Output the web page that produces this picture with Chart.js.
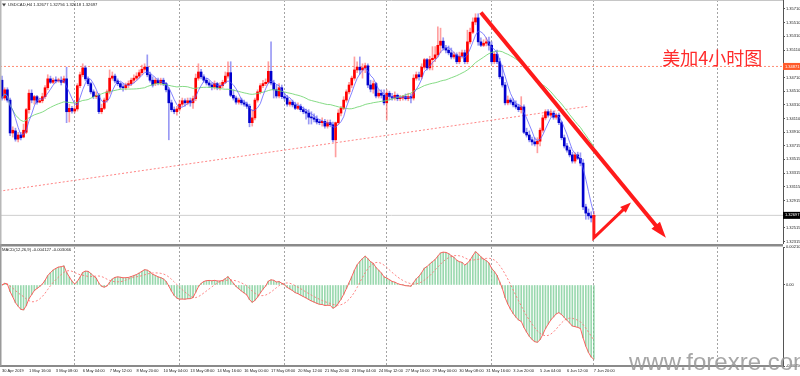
<!DOCTYPE html>
<html lang="zh">
<head>
<meta charset="utf-8">
<title>USDCAD H4</title>
<script src="https://cdn.jsdelivr.net/npm/chart.js@4.4.1/dist/chart.umd.min.js"></script>
<style>
  html, body { margin: 0; padding: 0; background: #ffffff; }
  #wrap { position: relative; width: 800px; height: 376px; overflow: hidden; background: #ffffff; }
  #boxPrice { position: absolute; left: 0; top: 0; width: 800px; height: 244px; }
  #boxMacd { position: absolute; left: 0; top: 244px; width: 800px; height: 132px; }
</style>
</head>
<body>
<div id="wrap">
  <div id="boxPrice"><canvas id="chartPrice"></canvas></div>
  <div id="boxMacd"><canvas id="chartMacd"></canvas></div>
</div>
<script>
// ---- data ----
var symbolName = 'USDCAD,H4';
var chartNote = '美加4小时图';
var watermark = 'www.forexre.com';

// one time label every 10 bars
var timeLabels = ['30 Apr 2019', '1 May 16:00', '3 May 08:00', '6 May 04:00', '7 May 12:00', '8 May 20:00',
    '10 May 04:00', '13 May 08:00', '14 May 16:00', '16 May 00:00', '17 May 08:00', '20 May 12:00',
    '21 May 20:00', '23 May 04:00', '24 May 12:00', '27 May 16:00', '29 May 00:00', '30 May 08:00',
    '31 May 16:00', '3 Jun 20:00', '5 Jun 04:00', '6 Jun 12:00', '7 Jun 20:00'];

var openPrice = [
    1.3467, 1.3441, 1.3453, 1.3438, 1.3390, 1.3393, 1.3381, 1.3387, 1.3384, 1.3391,
    1.3424, 1.3448, 1.3438, 1.3443, 1.3435, 1.3437, 1.3443, 1.3456, 1.3469, 1.3464,
    1.3467, 1.3466, 1.3467, 1.3464, 1.3469, 1.3421, 1.3426, 1.3422, 1.3425, 1.3459,
    1.3475, 1.3485, 1.3469, 1.3462, 1.3450, 1.3443, 1.3445, 1.3421, 1.3426, 1.3438,
    1.3450, 1.3470, 1.3473, 1.3466, 1.3462, 1.3457, 1.3456, 1.3460, 1.3462, 1.3467,
    1.3470, 1.3473, 1.3478, 1.3483, 1.3486, 1.3475, 1.3467, 1.3462, 1.3467, 1.3463,
    1.3467, 1.3462, 1.3453, 1.3434, 1.3424, 1.3421, 1.3425, 1.3432, 1.3437, 1.3434,
    1.3437, 1.3434, 1.3440, 1.3470, 1.3479, 1.3472, 1.3467, 1.3463, 1.3460, 1.3457,
    1.3462, 1.3456, 1.3459, 1.3464, 1.3473, 1.3478, 1.3445, 1.3441, 1.3435, 1.3438,
    1.3434, 1.3432, 1.3429, 1.3405, 1.3412, 1.3438, 1.3450, 1.3459, 1.3462, 1.3464,
    1.3480, 1.3463, 1.3453, 1.3444, 1.3456, 1.3443, 1.3441, 1.3432, 1.3435, 1.3431,
    1.3426, 1.3429, 1.3424, 1.3421, 1.3419, 1.3413, 1.3412, 1.3410, 1.3406, 1.3405,
    1.3407, 1.3400, 1.3405, 1.3402, 1.3380, 1.3405, 1.3419, 1.3426, 1.3438, 1.3450,
    1.3460, 1.3470, 1.3482, 1.3486, 1.3482, 1.3485, 1.3488, 1.3460, 1.3454, 1.3462,
    1.3444, 1.3448, 1.3445, 1.3434, 1.3448, 1.3443, 1.3441, 1.3445, 1.3440, 1.3441,
    1.3443, 1.3440, 1.3443, 1.3441, 1.3470, 1.3475, 1.3472, 1.3486, 1.3497, 1.3485,
    1.3497, 1.3499, 1.3504, 1.3518, 1.3524, 1.3514, 1.3511, 1.3507, 1.3501, 1.3504,
    1.3494, 1.3502, 1.3507, 1.3494, 1.3523, 1.3537, 1.3552, 1.3558, 1.3523, 1.3518,
    1.3521, 1.3523, 1.3518, 1.3494, 1.3505, 1.3494, 1.3472, 1.3460, 1.3434, 1.3438,
    1.3435, 1.3431, 1.3428, 1.3424, 1.3428, 1.3391, 1.3387, 1.3380, 1.3377, 1.3374,
    1.3378, 1.3394, 1.3412, 1.3421, 1.3416, 1.3419, 1.3413, 1.3416, 1.3405, 1.3383,
    1.3371, 1.3365, 1.3358, 1.3349, 1.3358, 1.3353, 1.3346, 1.3282, 1.3273, 1.3269,
    1.32677];
var highPrice = [
    1.3473, 1.3456, 1.3456, 1.3441, 1.3399, 1.3397, 1.3391, 1.3391, 1.3403, 1.3426,
    1.3453, 1.3453, 1.3445, 1.3445, 1.3441, 1.3448, 1.3459, 1.3475, 1.3473, 1.3470,
    1.3472, 1.3470, 1.3472, 1.3473, 1.3486, 1.3432, 1.3429, 1.3429, 1.3462, 1.3479,
    1.3491, 1.3488, 1.3472, 1.3464, 1.3453, 1.3450, 1.3448, 1.3432, 1.3441, 1.3453,
    1.3482, 1.3479, 1.3476, 1.3469, 1.3464, 1.3462, 1.3463, 1.3466, 1.3470, 1.3475,
    1.3478, 1.3482, 1.3489, 1.3491, 1.3504, 1.3479, 1.3472, 1.3470, 1.3470, 1.3470,
    1.3470, 1.3464, 1.3456, 1.3438, 1.3428, 1.3429, 1.3438, 1.3441, 1.3440, 1.3441,
    1.3441, 1.3444, 1.3476, 1.3491, 1.3483, 1.3475, 1.3470, 1.3466, 1.3463, 1.3466,
    1.3464, 1.3463, 1.3467, 1.3479, 1.3494, 1.3494, 1.3453, 1.3444, 1.3441, 1.3441,
    1.3438, 1.3435, 1.3432, 1.3424, 1.3441, 1.3453, 1.3462, 1.3467, 1.3469, 1.3494,
    1.3523, 1.3467, 1.3460, 1.3462, 1.3460, 1.3448, 1.3445, 1.3438, 1.3438, 1.3435,
    1.3434, 1.3432, 1.3428, 1.3425, 1.3424, 1.3421, 1.3418, 1.3415, 1.3410, 1.3412,
    1.3410, 1.3409, 1.3409, 1.3406, 1.3406, 1.3424, 1.3429, 1.3443, 1.3453, 1.3464,
    1.3473, 1.3501, 1.3494, 1.3501, 1.3491, 1.3492, 1.3491, 1.3467, 1.3466, 1.3464,
    1.3453, 1.3453, 1.3453, 1.3453, 1.3451, 1.3448, 1.3450, 1.3447, 1.3445, 1.3445,
    1.3447, 1.3448, 1.3447, 1.3475, 1.3479, 1.3479, 1.3491, 1.3499, 1.3499, 1.3502,
    1.3516, 1.3516, 1.3545, 1.3543, 1.3529, 1.3518, 1.3517, 1.3514, 1.3508, 1.3507,
    1.3508, 1.3511, 1.3511, 1.3540, 1.3543, 1.3558, 1.3564, 1.3564, 1.3529, 1.3526,
    1.3529, 1.3530, 1.3523, 1.3508, 1.3511, 1.3499, 1.3489, 1.3464, 1.3444, 1.3441,
    1.3440, 1.3437, 1.3432, 1.3443, 1.3431, 1.3397, 1.3393, 1.3384, 1.3383, 1.3383,
    1.3397, 1.3416, 1.3424, 1.3424, 1.3424, 1.3422, 1.3419, 1.3419, 1.3407, 1.3387,
    1.3375, 1.3369, 1.3362, 1.3361, 1.3362, 1.3361, 1.3351, 1.3286, 1.3279, 1.3275,
    1.32756];
var lowPrice = [
    1.3438, 1.3438, 1.3435, 1.3386, 1.3384, 1.3378, 1.3377, 1.3380, 1.3383, 1.3389,
    1.3419, 1.3434, 1.3432, 1.3432, 1.3434, 1.3434, 1.3440, 1.3453, 1.3462, 1.3462,
    1.3463, 1.3464, 1.3460, 1.3463, 1.3405, 1.3406, 1.3419, 1.3419, 1.3422, 1.3456,
    1.3472, 1.3466, 1.3459, 1.3447, 1.3440, 1.3440, 1.3418, 1.3418, 1.3424, 1.3435,
    1.3447, 1.3467, 1.3463, 1.3459, 1.3454, 1.3451, 1.3453, 1.3456, 1.3459, 1.3463,
    1.3467, 1.3470, 1.3475, 1.3480, 1.3472, 1.3464, 1.3457, 1.3459, 1.3460, 1.3460,
    1.3459, 1.3450, 1.3380, 1.3421, 1.3418, 1.3416, 1.3422, 1.3429, 1.3429, 1.3431,
    1.3429, 1.3426, 1.3437, 1.3467, 1.3469, 1.3464, 1.3460, 1.3456, 1.3453, 1.3454,
    1.3453, 1.3453, 1.3456, 1.3462, 1.3470, 1.3443, 1.3438, 1.3432, 1.3432, 1.3431,
    1.3429, 1.3426, 1.3399, 1.3400, 1.3409, 1.3435, 1.3447, 1.3456, 1.3459, 1.3462,
    1.3460, 1.3441, 1.3441, 1.3441, 1.3440, 1.3438, 1.3429, 1.3429, 1.3428, 1.3424,
    1.3424, 1.3421, 1.3418, 1.3410, 1.3403, 1.3403, 1.3406, 1.3403, 1.3402, 1.3400,
    1.3397, 1.3397, 1.3399, 1.3377, 1.3355, 1.3402, 1.3415, 1.3424, 1.3435, 1.3447,
    1.3456, 1.3467, 1.3478, 1.3476, 1.3470, 1.3478, 1.3456, 1.3450, 1.3448, 1.3441,
    1.3441, 1.3441, 1.3431, 1.3409, 1.3438, 1.3438, 1.3438, 1.3437, 1.3437, 1.3438,
    1.3438, 1.3437, 1.3434, 1.3438, 1.3467, 1.3467, 1.3469, 1.3483, 1.3482, 1.3482,
    1.3482, 1.3494, 1.3501, 1.3507, 1.3511, 1.3507, 1.3504, 1.3498, 1.3498, 1.3491,
    1.3491, 1.3499, 1.3491, 1.3491, 1.3520, 1.3535, 1.3548, 1.3518, 1.3516, 1.3516,
    1.3517, 1.3511, 1.3491, 1.3491, 1.3491, 1.3469, 1.3457, 1.3431, 1.3431, 1.3432,
    1.3428, 1.3425, 1.3421, 1.3419, 1.3389, 1.3384, 1.3377, 1.3372, 1.3371, 1.3361,
    1.3371, 1.3391, 1.3409, 1.3413, 1.3413, 1.3410, 1.3410, 1.3402, 1.3380, 1.3368,
    1.3362, 1.3355, 1.3346, 1.3346, 1.3351, 1.3342, 1.3278, 1.3264, 1.3264, 1.3260,
    1.32618];
var closePrice = [
    1.3441, 1.3453, 1.3438, 1.3390, 1.3394, 1.3381, 1.3387, 1.3383, 1.3394, 1.3424,
    1.3448, 1.3438, 1.3443, 1.3435, 1.3437, 1.3443, 1.3456, 1.3469, 1.3464, 1.3467,
    1.3466, 1.3467, 1.3464, 1.3469, 1.3421, 1.3426, 1.3422, 1.3425, 1.3459, 1.3475,
    1.3485, 1.3469, 1.3462, 1.3450, 1.3443, 1.3445, 1.3421, 1.3426, 1.3438, 1.3450,
    1.3470, 1.3473, 1.3466, 1.3462, 1.3457, 1.3456, 1.3460, 1.3462, 1.3467, 1.3470,
    1.3473, 1.3478, 1.3483, 1.3486, 1.3475, 1.3467, 1.3460, 1.3467, 1.3463, 1.3467,
    1.3462, 1.3453, 1.3434, 1.3424, 1.3421, 1.3425, 1.3432, 1.3437, 1.3434, 1.3437,
    1.3434, 1.3440, 1.3470, 1.3479, 1.3472, 1.3467, 1.3463, 1.3460, 1.3457, 1.3462,
    1.3456, 1.3459, 1.3464, 1.3473, 1.3478, 1.3445, 1.3441, 1.3435, 1.3438, 1.3434,
    1.3432, 1.3429, 1.3405, 1.3412, 1.3438, 1.3450, 1.3459, 1.3462, 1.3464, 1.3480,
    1.3463, 1.3453, 1.3444, 1.3456, 1.3443, 1.3441, 1.3432, 1.3435, 1.3431, 1.3426,
    1.3429, 1.3424, 1.3421, 1.3419, 1.3413, 1.3412, 1.3410, 1.3406, 1.3405, 1.3407,
    1.3400, 1.3405, 1.3402, 1.3380, 1.3405, 1.3419, 1.3426, 1.3438, 1.3450, 1.3460,
    1.3470, 1.3482, 1.3486, 1.3482, 1.3485, 1.3488, 1.3460, 1.3454, 1.3462, 1.3444,
    1.3448, 1.3445, 1.3434, 1.3448, 1.3443, 1.3441, 1.3445, 1.3440, 1.3441, 1.3443,
    1.3440, 1.3443, 1.3441, 1.3470, 1.3475, 1.3472, 1.3486, 1.3497, 1.3485, 1.3497,
    1.3499, 1.3504, 1.3518, 1.3524, 1.3514, 1.3511, 1.3507, 1.3501, 1.3504, 1.3494,
    1.3502, 1.3507, 1.3494, 1.3523, 1.3537, 1.3552, 1.3558, 1.3523, 1.3518, 1.3521,
    1.3523, 1.3518, 1.3494, 1.3505, 1.3494, 1.3472, 1.3460, 1.3434, 1.3438, 1.3435,
    1.3431, 1.3428, 1.3424, 1.3428, 1.3391, 1.3387, 1.3380, 1.3377, 1.3374, 1.3378,
    1.3394, 1.3412, 1.3421, 1.3416, 1.3419, 1.3413, 1.3416, 1.3405, 1.3383, 1.3371,
    1.3365, 1.3358, 1.3349, 1.3358, 1.3353, 1.3346, 1.3282, 1.3273, 1.3269, 1.3266,
    1.32697];

var priceTicks = [1.35710, 1.35510, 1.35310, 1.35110, 1.34710, 1.34510, 1.34310, 1.34110,
    1.33910, 1.33715, 1.33515, 1.33315, 1.33115, 1.32915, 1.32515, 1.32315];
var levelPrice = 1.34871;                 // red dotted horizontal level
var trendBars = [-1, 218];                // rising dotted trend line
var trendPrices = [1.3305, 1.3429];
var arrowBigBars = [178, 244.5];          // hand-drawn red arrows
var arrowBigPrices = [1.3566, 1.3248];
var arrowSmallBars = [220, 220, 232];
var arrowSmallPrices = [1.3270, 1.3237, 1.3282];
var notePosition = [245.4, 1.3499];       // bar, price of the chinese note
var gridBars = [27, 66, 105, 143, 182, 220, 266];
var macdRange = [-0.0045, 0.002109];

// ---- indicators built from the closes ----
function sma(src, n) {
    return src.map(function (v, i) {
        var s = 0, k = 0;
        for (var j = Math.max(0, i - n + 1); j <= i; j++) { s += src[j]; k++; }
        return s / k;
    });
}
function ema(src, n) {
    var a = 2 / (n + 1), out = [];
    src.forEach(function (v, i) { out.push(i === 0 ? v : a * v + (1 - a) * out[i - 1]); });
    return out;
}
var bars = closePrice.map(function (v, i) { return i; });
var last = bars.length - 1;
var maFast = sma(closePrice, 5);
var maSlow = sma(closePrice, 30);
var ema12 = ema(closePrice, 12), ema26 = ema(closePrice, 26);
var macdMain = bars.map(function (i) { return ema12[i] - ema26[i]; });
var macdSignal = sma(macdMain, 9);

// ---- look ----
var xMin = -0.75, xMax = 290.3;
var upColor = '#ff0000', downColor = '#0000cd';
var upWick = 'rgba(255,80,80,0.55)', downWick = 'rgba(70,70,235,0.55)';
var tickFont = { family: 'Liberation Sans', size: 4 };

function pts(xs, ys) { return xs.map(function (x, i) { return { x: x, y: ys[i] }; }); }
function fixWidth(w) { return function (s) { s.width = w; s.paddingTop = 0; s.paddingBottom = 0; }; }
function fixHeight(h) { return function (s) { s.height = h; s.paddingLeft = 0; s.paddingRight = 0; }; }
function setTicks(list) { return function (s) { s.ticks = list.map(function (v) { return { value: v }; }); }; }

var gridAxis = {
    type: 'linear', min: xMin, max: xMax, offset: false,
    afterBuildTicks: setTicks(gridBars),
    ticks: { display: false },
    grid: { offset: false, color: '#a4a4a4', lineWidth: 1, drawTicks: false },
    border: { display: false, dash: [2, 2] },
    afterFit: fixHeight(0)
};

// arrow heads for the hand drawn arrows
var arrowHeads = {
    id: 'arrowHeads',
    afterDatasetsDraw: function (chart) {
        var c = chart.ctx;
        chart.data.datasets.forEach(function (ds, k) {
            if (!ds.arrowHead) return;
            var d = chart.getDatasetMeta(k).data, p = d[d.length - 1], q = d[d.length - 2];
            var ang = Math.atan2(p.y - q.y, p.x - q.x), len = ds.arrowHead[0], w = ds.arrowHead[1] / 2;
            var cx = Math.cos(ang), sy = Math.sin(ang);
            var tx = p.x + cx * len * 0.6, ty = p.y + sy * len * 0.6;
            var bx = p.x - cx * len * 0.4, by = p.y - sy * len * 0.4;
            c.save();
            c.fillStyle = ds.borderColor;
            c.beginPath();
            c.moveTo(tx, ty);
            c.lineTo(bx - sy * w, by + cx * w);
            c.lineTo(bx + sy * w, by - cx * w);
            c.closePath();
            c.fill();
            c.restore();
        });
    }
};

function axisFlag(c, scale, value, bg) {
    var y = scale.getPixelForValue(value);
    c.fillStyle = bg;
    c.fillRect(scale.left, y - 3.5, 17, 7);
    c.fillStyle = '#ffffff';
    c.font = '4px "Liberation Sans"';
    c.textAlign = 'left';
    c.textBaseline = 'middle';
    c.fillText(value.toFixed(5), scale.left + 2, y);
}

var priceDecor = {
    id: 'priceDecor',
    afterDraw: function (chart) {
        var c = chart.ctx, a = chart.chartArea, ys = chart.scales.y, xs = chart.scales.x;
        c.save();
        c.strokeStyle = '#c6c6c6';
        c.lineWidth = 1;
        c.beginPath(); c.moveTo(0, 0.5); c.lineTo(a.right, 0.5); c.stroke();
        c.fillStyle = '#b8b8b8';
        c.fillRect(0, 0, 1.5, a.bottom);
        // title
        c.fillStyle = '#444444';
        c.beginPath(); c.moveTo(2, 3.5); c.lineTo(6, 3.5); c.lineTo(4, 6.5); c.closePath(); c.fill();
        c.font = '4.2px "Liberation Sans"';
        c.textAlign = 'left';
        c.textBaseline = 'middle';
        c.fillStyle = '#222222';
        c.fillText(symbolName + ' ' + [openPrice[last], highPrice[last], lowPrice[last], closePrice[last]]
            .map(function (v) { return v.toFixed(5); }).join(' '), 8, 5);
        // chinese note
        c.font = '18px "Noto Sans CJK SC"';
        c.fillStyle = '#ff2b2b';
        c.fillText(chartNote, xs.getPixelForValue(notePosition[0]), ys.getPixelForValue(notePosition[1]));
        // price flags on the axis
        axisFlag(c, ys, levelPrice, '#ff5a2a');
        axisFlag(c, ys, closePrice[last], '#000000');
        c.restore();
    }
};

var macdDecor = {
    id: 'macdDecor',
    afterDraw: function (chart) {
        var c = chart.ctx, a = chart.chartArea;
        c.save();
        c.fillStyle = '#8a8a8a';
        c.fillRect(0, 0, a.right, 2.5);
        c.fillStyle = '#9a9a9a';
        c.fillRect(0, 0, 1.5, a.bottom);
        c.font = '4.2px "Liberation Sans"';
        c.textAlign = 'left';
        c.textBaseline = 'middle';
        c.fillStyle = '#222222';
        c.fillText('MACD(12,26,9) ' + macdMain[last].toFixed(6) + ' ' + macdSignal[last].toFixed(6), 2, 6);
        c.font = '24px "Liberation Sans Narrow", "Liberation Sans"';
        c.fillStyle = 'rgba(150,150,150,0.85)';
        c.textBaseline = 'alphabetic';
        c.fillText(watermark, 629, 126);
        c.restore();
    }
};

// ---- price panel ----
var ctxPrice = document.getElementById('chartPrice').getContext('2d');
var priceChart = new Chart(ctxPrice, {
    type: 'bar',
    data: {
        datasets: [
            { type: 'line', label: 'arrow1', data: pts(arrowBigBars, arrowBigPrices), borderColor: '#ff1a1a',
              borderWidth: 4, pointRadius: 0, order: 0, arrowHead: [16, 11] },
            { type: 'line', label: 'arrow2', data: pts(arrowSmallBars, arrowSmallPrices), borderColor: '#ff1a1a',
              borderWidth: 3, pointRadius: 0, order: 0, arrowHead: [11, 8], borderJoinStyle: 'miter' },
            { type: 'line', label: 'MA5', data: pts(bars, maFast), borderColor: 'rgba(90,90,255,0.75)',
              borderWidth: 1, pointRadius: 0, order: 1 },
            { type: 'line', label: 'MA30', data: pts(bars, maSlow), borderColor: 'rgba(120,215,120,0.9)',
              borderWidth: 1, pointRadius: 0, order: 2 },
            { label: 'body', data: bars.map(function (i) { return { x: i, y: [openPrice[i], closePrice[i]] }; }),
              backgroundColor: bars.map(function (i) { return closePrice[i] >= openPrice[i] ? upColor : downColor; }),
              barThickness: 2, minBarLength: 1, grouped: false, order: 3 },
            { label: 'wick', data: bars.map(function (i) { return { x: i, y: [lowPrice[i], highPrice[i]] }; }),
              backgroundColor: bars.map(function (i) { return closePrice[i] >= openPrice[i] ? upWick : downWick; }),
              barThickness: 1, grouped: false, order: 4 },
            { type: 'line', label: 'level', data: pts([xMin, xMax], [levelPrice, levelPrice]),
              borderColor: 'rgba(255,120,90,0.85)', borderWidth: 1, borderDash: [2, 2], pointRadius: 0, order: 5 },
            { type: 'line', label: 'trend', data: pts(trendBars, trendPrices),
              borderColor: 'rgba(255,110,110,0.85)', borderWidth: 1, borderDash: [2, 2], pointRadius: 0, order: 5 },
            { type: 'line', label: 'price', data: pts([xMin, xMax], [closePrice[last], closePrice[last]]),
              borderColor: '#cfcfcf', borderWidth: 1, pointRadius: 0, order: 6 }
        ]
    },
    options: {
        responsive: true,
        maintainAspectRatio: false,
        animation: false,
        events: [],
        layout: { padding: 0 },
        plugins: { legend: { display: false }, tooltip: { enabled: false } },
        scales: {
            x: gridAxis,
            y: {
                position: 'right', min: 1.32279, max: 1.35841, beginAtZero: false,
                afterBuildTicks: setTicks(priceTicks),
                ticks: { font: tickFont, color: '#222222', padding: 1,
                         callback: function (v) { return v.toFixed(5); } },
                grid: { drawOnChartArea: false, tickLength: 2, color: '#555555' },
                border: { color: '#555555', width: 1 },
                afterFit: fixWidth(17)
            }
        }
    },
    plugins: [arrowHeads, priceDecor]
});

// ---- MACD panel ----
var ctxMacd = document.getElementById('chartMacd').getContext('2d');
var macdChart = new Chart(ctxMacd, {
    type: 'bar',
    data: {
        datasets: [
            { type: 'line', label: 'MACD', data: pts(bars, macdMain), borderColor: 'rgba(255,80,80,0.9)',
              borderWidth: 1, pointRadius: 0, order: 0 },
            { type: 'line', label: 'Signal', data: pts(bars, macdSignal), borderColor: 'rgba(255,110,110,0.85)',
              borderWidth: 1, borderDash: [2, 2], pointRadius: 0, order: 1 },
            { label: 'hist', data: pts(bars, macdMain), backgroundColor: 'rgba(110,200,140,0.7)',
              barThickness: 1, grouped: false, order: 2 }
        ]
    },
    options: {
        responsive: true,
        maintainAspectRatio: false,
        animation: false,
        events: [],
        layout: { padding: { top: 3, left: 0, right: 0, bottom: 0 } },
        plugins: { legend: { display: false }, tooltip: { enabled: false } },
        scales: {
            x: {
                type: 'linear', min: xMin, max: xMax, offset: false,
                afterBuildTicks: setTicks(timeLabels.map(function (t, k) { return k * 10; })),
                ticks: { font: tickFont, color: '#222222', align: 'start', padding: 2, maxRotation: 0,
                         autoSkip: false, callback: function (v, k) { return timeLabels[k]; } },
                grid: { display: false, offset: false, drawTicks: false },
                border: { display: true, color: '#8a8a8a', width: 2 },
                afterFit: fixHeight(10)
            },
            xg: Object.assign({}, gridAxis, { position: 'bottom' }),
            y: {
                position: 'right', min: macdRange[0], max: macdRange[1], beginAtZero: false,
                afterBuildTicks: setTicks([macdRange[0], 0, macdRange[1]]),
                ticks: { font: tickFont, color: '#222222', padding: 1,
                         callback: function (v) { return v === 0 ? '0.00' : v.toFixed(6); } },
                grid: { drawOnChartArea: false, tickLength: 2, color: '#555555' },
                border: { color: '#555555', width: 1 },
                afterFit: fixWidth(17)
            }
        }
    },
    plugins: [macdDecor]
});
</script>
</body>
</html>
